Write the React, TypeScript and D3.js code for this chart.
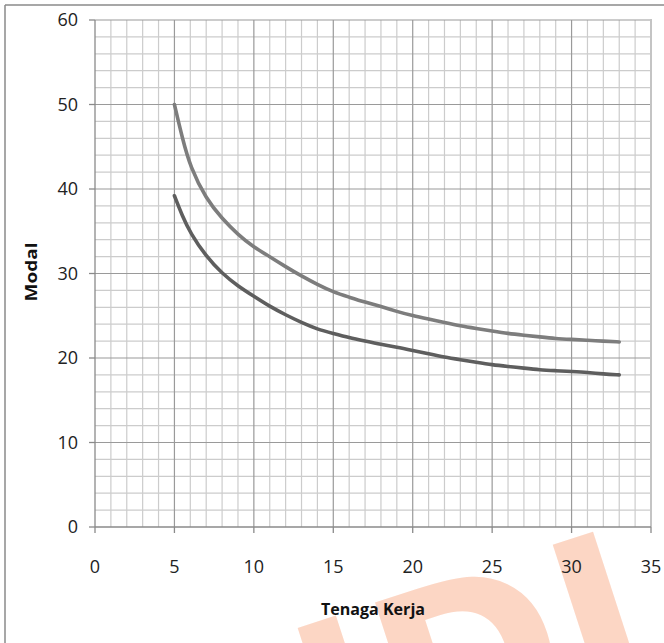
import React from 'react';
import * as d3 from 'd3';

const xValues = [5, 5.5, 6, 7, 8, 9, 10, 11, 12, 13, 14, 15, 16, 17, 18, 19, 20, 21, 22, 23, 24, 25, 26, 27, 28, 29, 30, 31, 32, 33];
const upperSeries = [50, 46.0, 42.6, 38.8, 36.5, 34.6, 33.1, 32.0, 30.8, 29.7, 28.7, 27.8, 27.2, 26.6, 26.1, 25.5, 25.0, 24.6, 24.2, 23.8, 23.5, 23.2, 22.9, 22.7, 22.5, 22.3, 22.2, 22.1, 22.0, 21.9];
const lowerSeries = [39.2, 36.8, 34.8, 32.0, 30.0, 28.5, 27.3, 26.1, 25.1, 24.2, 23.4, 22.9, 22.4, 22.0, 21.6, 21.3, 20.9, 20.5, 20.1, 19.8, 19.5, 19.2, 19.0, 18.8, 18.6, 18.5, 18.4, 18.3, 18.1, 18.0];
const xTicks = [0, 5, 10, 15, 20, 25, 30, 35];
const yTicks = [0, 10, 20, 30, 40, 50, 60];
const xTitle = 'Tenaga Kerja';
const yTitle = 'Modal';
const watermarkLeft = 'UN';
const watermarkRight = 'DI';

export default function App() {
  const W = 664, H = 643;
  const x = d3.scaleLinear().domain([0, 35]).range([95, 651]);
  const y = d3.scaleLinear().domain([0, 60]).range([527, 20]);
  const minorX = d3.range(0, 36, 1).filter((v) => v % 5 !== 0);
  const minorY = d3.range(0, 61, 2).filter((v) => v % 10 !== 0);
  const line = d3
    .line<number>()
    .x((_, i) => x(xValues[i]))
    .y((d) => y(d))
    .curve(d3.curveBasis);
  const font = "'Open Sans', 'Liberation Sans', sans-serif";

  return (
    <svg width={W} height={H} style={{ position: 'absolute', left: 0, top: 0, display: 'block', background: '#fff' }}>
      {/* watermark */}
      <g transform="translate(406,765) rotate(-18)" fill="#fcd6c4" fontFamily="'DejaVu Sans', sans-serif" fontWeight="bold" fontSize={225}>
        <text textAnchor="end">{watermarkLeft}</text>
        <text textAnchor="start">{watermarkRight}</text>
      </g>
      {/* outer frame */}
      <line x1={5} y1={5} x2={W} y2={5} stroke="#8a8a8a" strokeWidth={1.5} />
      <line x1={5} y1={5} x2={5} y2={H} stroke="#8a8a8a" strokeWidth={1.5} />
      {/* minor grid */}
      {minorX.map((v) => (
        <line key={'mx' + v} x1={x(v)} x2={x(v)} y1={y(60)} y2={y(0)} stroke="#cccccc" strokeWidth={1.2} />
      ))}
      {minorY.map((v) => (
        <line key={'my' + v} x1={x(0)} x2={x(35)} y1={y(v)} y2={y(v)} stroke="#cccccc" strokeWidth={1.2} />
      ))}
      {/* major grid */}
      {xTicks.slice(1, -1).map((v) => (
        <line key={'Mx' + v} x1={x(v)} x2={x(v)} y1={y(60)} y2={y(0)} stroke="#9a9a9a" strokeWidth={1.2} />
      ))}
      {yTicks.slice(1).map((v) => (
        <line key={'My' + v} x1={x(0)} x2={x(35)} y1={y(v)} y2={y(v)} stroke="#9a9a9a" strokeWidth={1.2} />
      ))}
      {/* right border */}
      <line x1={x(35)} x2={x(35)} y1={y(60) - 1} y2={y(0)} stroke="#c4c4c4" strokeWidth={2} />
      {/* axes */}
      <line x1={x(0)} x2={x(0)} y1={y(60)} y2={y(0)} stroke="#8a8a8a" strokeWidth={1.3} />
      <line x1={x(0)} x2={x(35)} y1={y(0)} y2={y(0)} stroke="#8a8a8a" strokeWidth={1.3} />
      {yTicks.map((v) => (
        <line key={'yt' + v} x1={x(0) - 6} x2={x(0)} y1={y(v)} y2={y(v)} stroke="#8a8a8a" strokeWidth={1.3} />
      ))}
      {xTicks.map((v) => (
        <line key={'xt' + v} x1={x(v)} x2={x(v)} y1={y(0)} y2={y(0) + 6} stroke="#8a8a8a" strokeWidth={1.3} />
      ))}
      {/* tick labels */}
      {yTicks.map((v) => (
        <text key={'yl' + v} x={78} y={y(v)} dy="0.36em" textAnchor="end" fontFamily={font} fontSize={18} fill="#222">
          {v}
        </text>
      ))}
      {xTicks.map((v) => (
        <text key={'xl' + v} x={x(v)} y={573} textAnchor="middle" fontFamily={font} fontSize={18} fill="#222">
          {v}
        </text>
      ))}
      {/* series */}
      <path d={line(upperSeries) || ''} fill="none" stroke="#7d7d7d" strokeWidth={3.6} strokeLinecap="round" />
      <path d={line(lowerSeries) || ''} fill="none" stroke="#5e5e5e" strokeWidth={3.6} strokeLinecap="round" />
      {/* titles */}
      <text x={373} y={615} textAnchor="middle" fontFamily={font} fontWeight="bold" fontSize={16} fill="#111" textLength={104} lengthAdjust="spacingAndGlyphs">
        {xTitle}
      </text>
      <text transform="translate(37,272) rotate(-90)" textAnchor="middle" fontFamily={font} fontWeight="bold" fontSize={16} fill="#111" textLength={59} lengthAdjust="spacingAndGlyphs">
        {yTitle}
      </text>
    </svg>
  );
}
